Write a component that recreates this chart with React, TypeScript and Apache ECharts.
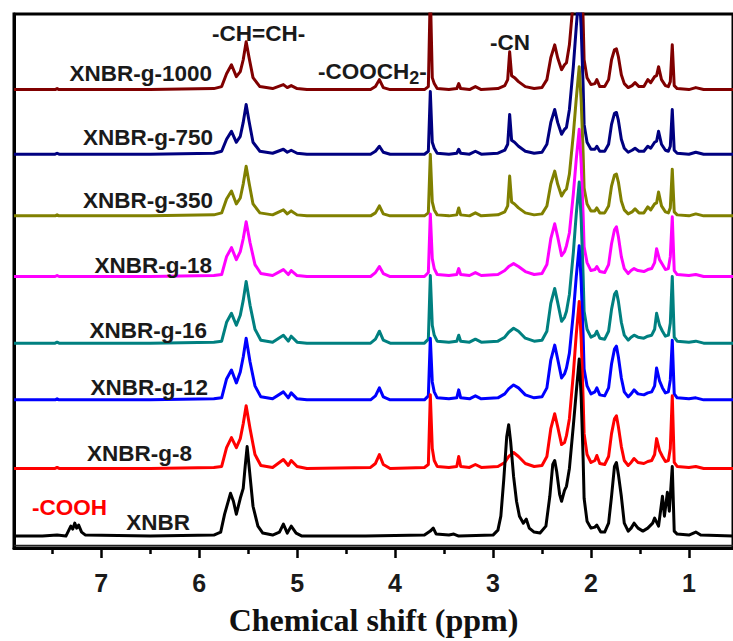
import React, { useEffect, useRef } from "react";
import * as echarts from "echarts";

// ---- data -------------------------------------------------------------
const spectrumNames = [
  "XNBR-g-1000",
  "XNBR-g-750",
  "XNBR-g-350",
  "XNBR-g-18",
  "XNBR-g-16",
  "XNBR-g-12",
  "XNBR-g-8",
  "XNBR",
];

// vertical stacking offsets (intensity units)
const offsets = [461, 396, 334, 273, 206, 149, 80, 12];

const g1000: number[][] = [
  [7.89, 0], [7.47, 0], [7.45, 1], [7.43, 0], [6.5, 0], [5.85, 1], [5.77, 3], [5.72, 16], [5.67, 25],
  [5.62, 13], [5.58, 18], [5.55, 30], [5.52, 48], [5.49, 32], [5.45, 12], [5.38, 3], [5.25, 1],
  [5.14, 5], [5.1, 2], [5.06, 4], [5.0, 1], [4.9, 0], [4.25, 0], [4.2, 3], [4.16, 10], [4.12, 2],
  [4.05, 0], [3.7, 0], [3.66, 3], [3.64, 100], [3.62, 12], [3.6, 6], [3.57, 1], [3.45, 0], [3.37, 1],
  [3.35, 6], [3.33, 1], [3.24, 0], [3.18, 3], [3.12, 0], [2.95, 1], [2.88, 4], [2.85, 10], [2.83, 38],
  [2.81, 14], [2.78, 12], [2.74, 8], [2.67, 3], [2.58, 1], [2.5, 2], [2.45, 10], [2.41, 32], [2.37, 45],
  [2.34, 32], [2.3, 20], [2.27, 25], [2.25, 27], [2.22, 45], [2.18, 90], [2.15, 130], [2.12, 170],
  [2.1, 130], [2.08, 70], [2.07, 30], [2.04, 12], [2.0, 5], [1.96, 6], [1.94, 10], [1.91, 3], [1.86, 3],
  [1.82, 10], [1.79, 30], [1.76, 40], [1.74, 41], [1.72, 33], [1.69, 15], [1.66, 6], [1.62, 2],
  [1.58, 4], [1.55, 7], [1.51, 3], [1.46, 3], [1.42, 10], [1.39, 7], [1.35, 13], [1.33, 14], [1.31, 23],
  [1.28, 10], [1.24, 4], [1.21, 3], [1.19, 8], [1.17, 45], [1.15, 4], [1.12, 1], [1.0, 0], [0.93, 2],
  [0.85, 0], [0.55, 0],
];

const g750: number[][] = [
  [7.89, 0], [7.47, 0], [7.45, 1], [7.43, 0], [6.5, 0], [5.85, 1], [5.77, 3], [5.72, 15], [5.67, 23],
  [5.62, 12], [5.58, 18], [5.55, 32], [5.52, 50], [5.49, 33], [5.45, 12], [5.38, 3], [5.25, 1],
  [5.14, 5], [5.1, 2], [5.06, 4], [5.0, 1], [4.9, 0], [4.25, 0], [4.2, 3], [4.16, 8], [4.12, 2],
  [4.05, 0], [3.7, 0], [3.66, 3], [3.64, 63], [3.62, 12], [3.6, 6], [3.57, 1], [3.45, 0], [3.37, 1],
  [3.35, 5], [3.33, 1], [3.24, 0], [3.18, 3], [3.12, 0], [2.95, 1], [2.88, 4], [2.85, 10], [2.83, 40],
  [2.81, 14], [2.78, 12], [2.74, 8], [2.67, 3], [2.58, 1], [2.5, 2], [2.45, 10], [2.41, 32], [2.37, 45],
  [2.34, 32], [2.3, 20], [2.27, 25], [2.25, 27], [2.22, 45], [2.18, 88], [2.15, 128], [2.12, 165],
  [2.1, 127], [2.08, 69], [2.07, 30], [2.04, 12], [2.0, 5], [1.96, 5], [1.94, 8], [1.91, 3], [1.86, 3],
  [1.82, 10], [1.79, 30], [1.76, 41], [1.74, 42], [1.72, 34], [1.69, 15], [1.66, 6], [1.62, 2],
  [1.58, 4], [1.55, 6], [1.51, 3], [1.46, 3], [1.42, 8], [1.39, 6], [1.35, 12], [1.33, 13], [1.31, 23],
  [1.28, 10], [1.24, 4], [1.21, 3], [1.19, 8], [1.17, 45], [1.15, 4], [1.12, 1], [1.0, 0], [0.93, 2],
  [0.85, 0], [0.55, 0],
];

const g350: number[][] = [
  [7.89, 0], [7.47, 0], [7.45, 1], [7.43, 0], [6.5, 0], [5.85, 1], [5.77, 3], [5.72, 17], [5.67, 25],
  [5.62, 12], [5.58, 18], [5.55, 32], [5.52, 50], [5.49, 33], [5.45, 12], [5.38, 3], [5.25, 1],
  [5.14, 6], [5.1, 2], [5.06, 5], [5.0, 1], [4.9, 0], [4.25, 0], [4.2, 3], [4.16, 10], [4.12, 2],
  [4.05, 0], [3.7, 0], [3.66, 3], [3.64, 62], [3.62, 14], [3.6, 6], [3.57, 1], [3.45, 0], [3.37, 1],
  [3.35, 8], [3.33, 1], [3.24, 0], [3.18, 3], [3.12, 0], [2.95, 1], [2.88, 4], [2.85, 10], [2.83, 40],
  [2.81, 14], [2.78, 12], [2.74, 8], [2.67, 3], [2.58, 1], [2.5, 2], [2.45, 10], [2.41, 32], [2.37, 45],
  [2.34, 32], [2.3, 20], [2.27, 25], [2.25, 27], [2.22, 42], [2.18, 82], [2.15, 118], [2.12, 150],
  [2.1, 116], [2.08, 63], [2.07, 28], [2.04, 12], [2.0, 5], [1.96, 5], [1.94, 8], [1.91, 3], [1.86, 3],
  [1.82, 10], [1.79, 30], [1.76, 41], [1.74, 42], [1.72, 34], [1.69, 15], [1.66, 6], [1.62, 2],
  [1.58, 4], [1.55, 7], [1.51, 3], [1.46, 3], [1.42, 9], [1.39, 6], [1.35, 12], [1.33, 13], [1.31, 24],
  [1.28, 10], [1.24, 4], [1.21, 3], [1.19, 8], [1.17, 47], [1.15, 4], [1.12, 1], [1.0, 0], [0.93, 2],
  [0.85, 0], [0.55, 0],
];

const g18: number[][] = [
  [7.89, 0], [7.47, 0], [7.45, 1], [7.43, 0], [6.5, 0], [5.85, 1], [5.77, 2], [5.72, 20], [5.67, 29],
  [5.62, 17], [5.58, 25], [5.55, 38], [5.52, 55], [5.48, 34], [5.43, 12], [5.37, 3], [5.25, 1],
  [5.14, 7], [5.09, 2], [5.06, 6], [5.0, 1], [4.9, 0], [4.25, 0], [4.2, 4], [4.16, 10], [4.12, 3],
  [4.05, 0], [3.7, 0], [3.66, 4], [3.64, 63], [3.62, 18], [3.6, 8], [3.57, 2], [3.45, 1], [3.37, 2],
  [3.35, 8], [3.33, 2], [3.24, 1], [3.18, 4], [3.12, 1], [2.95, 2], [2.88, 6], [2.84, 10], [2.79, 13],
  [2.74, 10], [2.67, 5], [2.58, 2], [2.5, 3], [2.45, 12], [2.41, 38], [2.37, 53], [2.34, 40], [2.3, 21],
  [2.27, 25], [2.25, 31], [2.22, 44], [2.18, 83], [2.15, 118], [2.12, 148], [2.1, 114], [2.08, 62],
  [2.07, 30], [2.04, 14], [2.0, 6], [1.96, 7], [1.94, 10], [1.91, 5], [1.86, 4], [1.82, 12], [1.79, 33],
  [1.76, 47], [1.74, 50], [1.72, 40], [1.69, 20], [1.66, 8], [1.62, 3], [1.59, 6], [1.56, 8], [1.52, 6],
  [1.46, 5], [1.42, 7], [1.38, 8], [1.35, 14], [1.33, 28], [1.3, 17], [1.27, 12], [1.24, 7], [1.21, 8],
  [1.19, 20], [1.17, 60], [1.15, 6], [1.12, 2], [1.0, 1], [0.93, 2], [0.85, 0], [0.55, 0],
];

const g16: number[][] = [
  [7.89, 0], [7.47, 0], [7.45, 1], [7.43, 0], [6.5, 0], [5.85, 1], [5.77, 2], [5.72, 21], [5.67, 30],
  [5.62, 18], [5.58, 28], [5.55, 43], [5.52, 62], [5.48, 38], [5.43, 14], [5.37, 3], [5.25, 1],
  [5.14, 8], [5.09, 2], [5.06, 7], [5.0, 1], [4.9, 0], [4.25, 0], [4.2, 4], [4.16, 12], [4.12, 3],
  [4.05, 0], [3.7, 0], [3.66, 4], [3.64, 68], [3.62, 18], [3.6, 8], [3.57, 2], [3.45, 1], [3.37, 2],
  [3.35, 8], [3.33, 2], [3.24, 1], [3.18, 4], [3.12, 1], [2.95, 2], [2.88, 6], [2.84, 11], [2.79, 15],
  [2.74, 12], [2.67, 5], [2.58, 2], [2.5, 3], [2.45, 12], [2.41, 40], [2.37, 55], [2.34, 41], [2.3, 22],
  [2.27, 26], [2.25, 32], [2.22, 49], [2.18, 91], [2.15, 130], [2.12, 162], [2.1, 125], [2.08, 68],
  [2.07, 32], [2.04, 14], [2.0, 6], [1.96, 8], [1.94, 12], [1.91, 5], [1.86, 4], [1.82, 12], [1.79, 34],
  [1.76, 49], [1.74, 52], [1.72, 42], [1.69, 21], [1.66, 8], [1.62, 3], [1.59, 6], [1.56, 8], [1.52, 6],
  [1.46, 5], [1.42, 7], [1.38, 8], [1.35, 14], [1.33, 30], [1.3, 18], [1.27, 12], [1.24, 7], [1.21, 8],
  [1.19, 20], [1.17, 67], [1.15, 6], [1.12, 2], [1.0, 1], [0.93, 2], [0.85, 0], [0.55, 0],
];

const g12: number[][] = [
  [7.89, 0], [7.47, 0], [7.45, 1], [7.43, 0], [6.5, 0], [5.85, 1], [5.77, 2], [5.72, 21], [5.67, 30],
  [5.62, 17], [5.58, 28], [5.55, 43], [5.52, 62], [5.48, 38], [5.43, 14], [5.37, 3], [5.25, 1],
  [5.14, 8], [5.09, 2], [5.06, 7], [5.0, 1], [4.9, 0], [4.25, 0], [4.2, 4], [4.16, 12], [4.12, 3],
  [4.05, 0], [3.7, 0], [3.66, 4], [3.64, 62], [3.62, 18], [3.6, 8], [3.57, 2], [3.45, 1], [3.37, 2],
  [3.35, 10], [3.33, 2], [3.24, 1], [3.18, 4], [3.12, 1], [2.95, 2], [2.88, 6], [2.84, 11], [2.79, 15],
  [2.74, 12], [2.67, 5], [2.58, 2], [2.5, 3], [2.45, 12], [2.41, 40], [2.37, 55], [2.34, 41], [2.3, 22],
  [2.27, 26], [2.25, 32], [2.22, 47], [2.18, 87], [2.15, 124], [2.12, 155], [2.1, 119], [2.08, 65],
  [2.07, 31], [2.04, 14], [2.0, 6], [1.96, 8], [1.94, 12], [1.91, 5], [1.86, 4], [1.82, 12], [1.79, 36],
  [1.76, 51], [1.74, 54], [1.72, 43], [1.69, 22], [1.66, 8], [1.62, 3], [1.59, 6], [1.56, 10], [1.52, 6],
  [1.46, 5], [1.42, 7], [1.38, 8], [1.35, 14], [1.33, 32], [1.3, 19], [1.27, 12], [1.24, 7], [1.21, 8],
  [1.19, 20], [1.17, 60], [1.15, 6], [1.12, 2], [1.0, 1], [0.93, 2], [0.85, 0], [0.55, 0],
];

const g8: number[][] = [
  [7.89, 0], [7.47, 0], [7.45, 1], [7.43, 0], [6.5, 0], [5.85, 1], [5.77, 2], [5.72, 21], [5.67, 31],
  [5.62, 21], [5.58, 30], [5.55, 45], [5.52, 63], [5.48, 40], [5.43, 14], [5.37, 3], [5.25, 1],
  [5.14, 9], [5.09, 3], [5.06, 8], [5.0, 2], [4.9, 0], [4.25, 1], [4.2, 5], [4.16, 14], [4.12, 4],
  [4.05, 0], [3.7, 1], [3.66, 4], [3.64, 74], [3.62, 20], [3.6, 8], [3.57, 2], [3.45, 1], [3.37, 2],
  [3.35, 12], [3.33, 2], [3.24, 1], [3.18, 4], [3.12, 1], [2.95, 2], [2.88, 6], [2.84, 12], [2.79, 16],
  [2.74, 12], [2.67, 5], [2.58, 2], [2.5, 3], [2.45, 12], [2.41, 40], [2.37, 55], [2.34, 42], [2.3, 24],
  [2.27, 26], [2.25, 33], [2.22, 50], [2.18, 95], [2.15, 135], [2.12, 168], [2.1, 130], [2.08, 70],
  [2.07, 35], [2.04, 14], [2.0, 6], [1.96, 8], [1.94, 13], [1.91, 5], [1.86, 4], [1.82, 12], [1.79, 35],
  [1.76, 50], [1.74, 53], [1.72, 42], [1.69, 22], [1.66, 8], [1.62, 3], [1.59, 6], [1.56, 10], [1.52, 6],
  [1.46, 5], [1.42, 7], [1.38, 8], [1.35, 14], [1.33, 30], [1.3, 18], [1.27, 12], [1.24, 7], [1.21, 8],
  [1.19, 20], [1.17, 73], [1.15, 6], [1.12, 2], [1.0, 1], [0.93, 2], [0.85, 0], [0.55, 0],
];

const xnbr: number[][] = [
  [7.89, 0], [7.6, 0], [7.45, 1], [7.36, 0], [7.33, 6], [7.31, 10], [7.29, 7], [7.27, 13], [7.25, 8],
  [7.23, 11], [7.2, 4], [7.16, 1], [6.5, 0], [5.85, 1], [5.78, 4], [5.74, 22], [5.68, 43], [5.65, 35],
  [5.62, 22], [5.58, 38], [5.55, 48], [5.53, 70], [5.51, 90], [5.48, 60], [5.45, 30], [5.4, 10],
  [5.35, 3], [5.25, 1], [5.18, 4], [5.14, 12], [5.1, 3], [5.06, 10], [5.01, 3], [4.95, 0], [4.3, 0],
  [3.7, 1], [3.64, 5], [3.61, 8], [3.58, 2], [3.45, 1], [3.4, 2], [3.35, 0], [3.0, 1], [2.95, 6],
  [2.92, 20], [2.89, 57], [2.86, 100], [2.84, 112], [2.82, 95], [2.79, 60], [2.76, 35], [2.73, 20],
  [2.69, 13], [2.66, 17], [2.63, 8], [2.58, 4], [2.52, 3], [2.46, 10], [2.42, 40], [2.39, 72],
  [2.37, 76], [2.35, 65], [2.32, 42], [2.3, 35], [2.27, 46], [2.25, 50], [2.22, 68], [2.18, 111],
  [2.15, 145], [2.12, 178], [2.1, 140], [2.08, 78], [2.07, 38], [2.04, 15], [2.0, 8], [1.96, 9],
  [1.94, 11], [1.9, 4], [1.86, 4], [1.82, 13], [1.79, 40], [1.76, 70], [1.74, 74], [1.72, 62],
  [1.69, 40], [1.66, 13], [1.62, 5], [1.59, 8], [1.56, 13], [1.52, 8], [1.47, 5], [1.42, 8], [1.37, 13],
  [1.35, 18], [1.31, 10], [1.27, 40], [1.25, 20], [1.22, 44], [1.2, 25], [1.17, 70], [1.15, 5],
  [1.12, 2], [1.0, 1], [0.93, 4], [0.88, 1], [0.55, 0],
];

const spectra = [g1000, g750, g350, g18, g16, g12, g8, xnbr];

const majorTicks = [1, 2, 3, 4, 5, 6, 7];
const minorTicks = [1.5, 2.5, 3.5, 4.5, 5.5, 6.5, 7.5];

// ---- styles -------------------------------------------------------------
const lineColors = ["#800000", "#000080", "#808000", "#ff00ff", "#008080", "#0000ff", "#ff0000", "#000000"];
const sansFont = 'Arial, "Liberation Sans", Helvetica, sans-serif';
const serifFont = '"Times New Roman", "Liberation Serif", Times, serif';

// label anchors (right edge x, centre y) for each spectrum name
const nameAnchors = [
  [212, 73], [213, 137], [213, 200], [212, 265], [207, 330], [208, 387], [192, 453], [190, 522],
];

export default function App() {
  const ref = useRef<HTMLDivElement>(null);

  useEffect(() => {
    if (!ref.current) return;
    const chart = echarts.init(ref.current, undefined, { renderer: "svg" });

    const series = spectra.map((s, i) => ({
      type: "line",
      name: spectrumNames[i],
      data: s.map(([x, v]) => [x, v + offsets[i]]),
      showSymbol: false,
      symbol: "none",
      silent: true,
      clip: true,
      lineStyle: { color: lineColors[i], width: 3, join: "round" },
      z: 2 + i,
    }));

    const textEls: any[] = spectrumNames.map((n, i) => ({
      type: "text",
      x: nameAnchors[i][0],
      y: nameAnchors[i][1],
      z: 100,
      style: {
        text: n,
        fill: "#1a1a1a",
        font: `bold 22.5px ${sansFont}`,
        align: "right",
        verticalAlign: "middle",
      },
    }));

    textEls.push(
      {
        type: "text", x: 32, y: 507, z: 100,
        style: { text: "-COOH", fill: "#ff0000", font: `bold 22.5px ${sansFont}`, align: "left", verticalAlign: "middle" },
      },
      {
        type: "text", x: 212, y: 33, z: 100,
        style: { text: "-CH=CH-", fill: "#1a1a1a", font: `bold 22.5px ${sansFont}`, align: "left", verticalAlign: "middle" },
      },
      {
        type: "text", x: 490, y: 42, z: 100,
        style: { text: "-CN", fill: "#1a1a1a", font: `bold 22.5px ${sansFont}`, align: "left", verticalAlign: "middle" },
      },
      {
        type: "text", x: 318, y: 71, z: 100,
        style: {
          text: "{m|-COOCH}{s|2}{m|-}",
          align: "left",
          verticalAlign: "middle",
          rich: {
            m: { fontSize: 22.5, fontWeight: "bold", fontFamily: sansFont, fill: "#1a1a1a", color: "#1a1a1a" },
            s: { fontSize: 18, fontWeight: "bold", fontFamily: sansFont, fill: "#1a1a1a", color: "#1a1a1a", padding: [14, 0, 0, 0] },
          },
        },
      },
      {
        type: "line",
        z: 1,
        shape: { x1: 14, y1: 545.5, x2: 733, y2: 545.5 },
        style: { stroke: "#222", lineWidth: 1.5 },
      }
    );

    chart.setOption({
      animation: false,
      backgroundColor: "#fff",
      grid: {
        left: 14,
        right: -4,
        top: 14,
        bottom: 90,
        show: true,
        borderColor: "#000",
        borderWidth: 3,
      },
      xAxis: [
        {
          type: "value",
          min: 0.55,
          max: 7.89,
          inverse: true,
          position: "bottom",
          axisLine: { show: true, onZero: false, lineStyle: { color: "#000", width: 3 } },
          axisTick: { show: true, customValues: majorTicks, length: 10, lineStyle: { color: "#000", width: 2.5 } },
          axisLabel: {
            show: true,
            customValues: majorTicks,
            fontSize: 25,
            fontWeight: "bold",
            fontFamily: sansFont,
            color: "#1a1a1a",
            margin: 22,
          },
          splitLine: { show: false },
          name: "Chemical shift (ppm)",
          nameLocation: "middle",
          nameGap: 56,
          nameTextStyle: { fontFamily: serifFont, fontWeight: "bold", fontSize: 32, color: "#111" },
        },
        {
          type: "value",
          min: 0.55,
          max: 7.89,
          inverse: true,
          position: "bottom",
          axisLine: { show: false },
          axisTick: { show: true, customValues: minorTicks, length: 6, lineStyle: { color: "#000", width: 2.5 } },
          axisLabel: { show: false },
          splitLine: { show: false },
        },
      ],
      yAxis: {
        type: "value",
        min: 0,
        max: 537,
        axisLine: { show: true, lineStyle: { color: "#000", width: 3 } },
        axisTick: { show: false },
        axisLabel: { show: false },
        splitLine: { show: false },
      },
      series,
      graphic: textEls,
    });

    return () => chart.dispose();
  }, []);

  return <div ref={ref} style={{ width: 733, height: 641, position: "absolute", left: 0, top: 0 }} />;
}
